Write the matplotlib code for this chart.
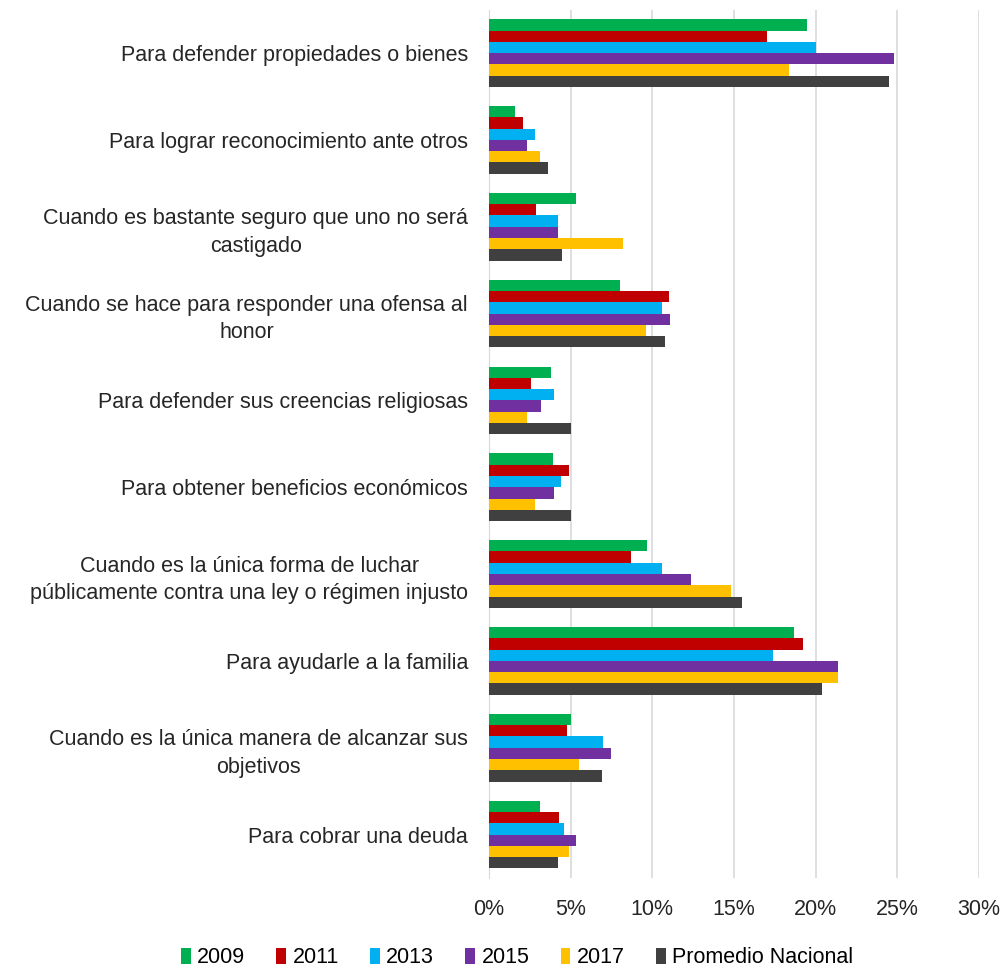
import matplotlib.pyplot as plt
import numpy as np

# ============================================================================
# DATA (percentages)
# ============================================================================

categories = [
    "Para defender propiedades o bienes",
    "Para lograr reconocimiento ante otros",
    "Cuando es bastante seguro que uno no será\ncastigado",
    "Cuando se hace para responder una ofensa al\nhonor",
    "Para defender sus creencias religiosas",
    "Para obtener beneficios económicos",
    "Cuando es la única forma de luchar\npúblicamente contra una ley o régimen injusto",
    "Para ayudarle a la familia",
    "Cuando es la única manera de alcanzar sus\nobjetivos",
    "Para cobrar una deuda",
]

series_names = ["2009", "2011", "2013", "2015", "2017", "Promedio Nacional"]

v2009 = [19.5, 1.6, 5.3, 8.0, 3.8, 3.9, 9.7, 18.7, 5.0, 3.1]
v2011 = [17.0, 2.1, 2.9, 11.0, 2.6, 4.9, 8.7, 19.2, 4.8, 4.3]
v2013 = [20.0, 2.8, 4.2, 10.6, 4.0, 4.4, 10.6, 17.4, 7.0, 4.6]
v2015 = [24.8, 2.3, 4.2, 11.1, 3.2, 4.0, 12.4, 21.4, 7.5, 5.3]
v2017 = [18.4, 3.1, 8.2, 9.6, 2.3, 2.8, 14.8, 21.4, 5.5, 4.9]
promedio = [24.5, 3.6, 4.5, 10.8, 5.0, 5.0, 15.5, 20.4, 6.9, 4.2]

colors = ["#00B050", "#C00000", "#00B0F0", "#7030A0", "#FFC000", "#404040"]

# ============================================================================
# PLOT
# ============================================================================

plt.rcParams['font.family'] = ['Liberation Sans', 'DejaVu Sans']
FS = 15.5

fig = plt.figure(figsize=(10.04, 9.69), dpi=100)
ax = fig.add_axes([0.487, 0.094, 0.488, 0.896])

all_series = [v2009, v2011, v2013, v2015, v2017, promedio]
y = np.arange(len(categories))
bar_h = 0.13
n = len(all_series)

for k, (name, vals, col) in enumerate(zip(series_names, all_series, colors)):
    offset = (k - (n - 1) / 2) * bar_h
    ax.barh(y + offset, np.array(vals) / 100, height=bar_h, color=col,
            label=name, zorder=3)

ax.set_ylim(len(categories) - 0.5, -0.5)
ax.set_xlim(0, 0.30)
ticks = np.arange(0, 0.31, 0.05)
ax.set_xticks(ticks)
ax.set_xticklabels([f"{int(round(t * 100))}%" for t in ticks])
ax.set_yticks(y)
ax.set_yticklabels(categories, multialignment='center', linespacing=1.4)

ax.grid(axis='x', color='#D9D9D9', linewidth=1.2, zorder=0)
for s in ['top', 'right', 'bottom']:
    ax.spines[s].set_visible(False)
ax.spines['left'].set_color('#D9D9D9')
ax.tick_params(axis='y', length=0, pad=15, labelsize=FS, colors='#262626')
ax.tick_params(axis='x', length=0, pad=15, labelsize=FS, colors='#262626')

handles, labels = ax.get_legend_handles_labels()
fig.legend(handles, labels, loc='center', bbox_to_anchor=(0.515, 0.0115),
           ncol=6, frameon=False, fontsize=FS, handlelength=0.45,
           handleheight=0.75, handletextpad=0.3, columnspacing=1.45,
           borderpad=0.0)

plt.savefig("out.png", dpi=100)
